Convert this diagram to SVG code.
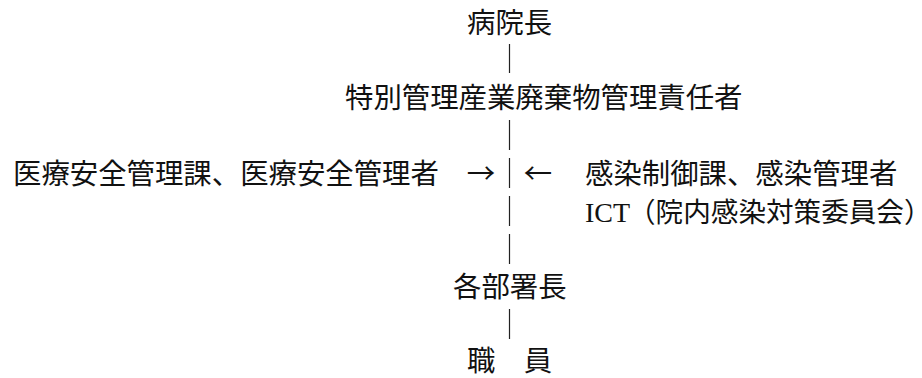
<svg xmlns="http://www.w3.org/2000/svg" width="922" height="378" viewBox="0 0 922 378">
<style>
  .t { font-family: "Noto Sans CJK JP", "Noto Sans", sans-serif; font-size: 28.4px; fill: #111; }
  .c { stroke: #222; stroke-width: 1.2; fill: none; }
</style>
<rect width="922" height="378" fill="#fff"/>
<g id="connectors">
  <line class="c" x1="509.5" y1="44" x2="509.5" y2="73"/>
  <line class="c" x1="509.5" y1="120" x2="509.5" y2="150"/>
  <line class="c" x1="509.5" y1="158" x2="509.5" y2="188"/>
  <line class="c" x1="509.5" y1="196" x2="509.5" y2="226"/>
  <line class="c" x1="509.5" y1="234" x2="509.5" y2="264"/>
  <line class="c" x1="509.5" y1="309" x2="509.5" y2="339"/>
  <text class="t" x="481" y="184" text-anchor="middle">→</text>
  <text class="t" x="538" y="184" text-anchor="middle">←</text>
</g>
<g id="director"><text class="t" x="467" y="33">病院長</text></g>
<g id="waste-manager"><text class="t" x="345" y="108">特別管理産業廃棄物管理責任者</text></g>
<g id="safety"><text class="t" x="13" y="184">医療安全管理課、医療安全管理者</text></g>
<g id="infection">
  <text class="t" x="585" y="184">感染制御課、感染管理者</text>
  <text class="t" x="585" y="222" style="font-size:28px;font-family:'Liberation Serif',serif">ICT</text>
  <text class="t" x="628" y="222" style="font-size:27.6px">（院内感染対策委員会）</text>
</g>
<g id="dept-heads"><text class="t" x="453" y="297">各部署長</text></g>
<g id="staff"><text class="t" x="467" y="371">職　員</text></g>
</svg>
